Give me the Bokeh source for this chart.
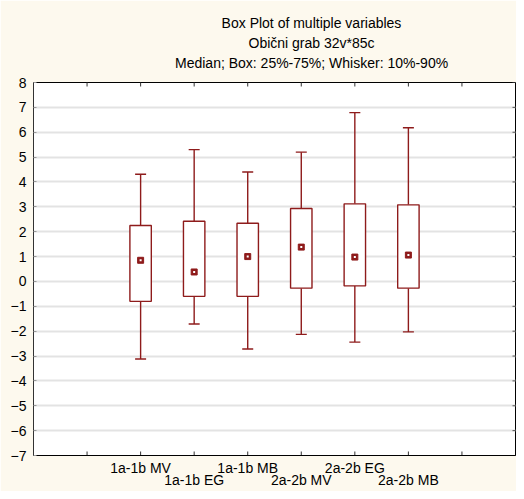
import numpy as np
from bokeh.plotting import figure
from bokeh.models import (Range1d, FixedTicker, Title, ColumnDataSource, LinearAxis,
                          CustomLabelingPolicy)
from bokeh.embed import file_html
from bokeh.resources import INLINE

# ---- data ----
categories = ["1a-1b MV", "1a-1b EG", "1a-1b MB", "2a-2b MV", "2a-2b EG", "2a-2b MB"]
median = [0.85, 0.38, 1.00, 1.38, 0.98, 1.06]
q25 = [-0.80, -0.60, -0.60, -0.27, -0.18, -0.27]
q75 = [2.25, 2.42, 2.34, 2.93, 3.12, 3.08]
p10 = [-3.12, -1.71, -2.72, -2.13, -2.44, -2.03]
p90 = [4.31, 5.30, 4.40, 5.20, 6.79, 6.18]
y_ticks = list(range(-7, 9))
title_lines = ["Box Plot of multiple variables",
               "Obični grab 32v*85c",
               "Median; Box: 25%-75%; Whisker: 10%-90%"]

RED = "#8E1B1B"
FONT = "Liberation Sans"
FS = "14px"

xpos = np.arange(1, len(categories) + 1)
x_ticks = list(range(0, len(categories) + 2))
x_lo, x_hi = -1, len(categories) + 2
src = ColumnDataSource(dict(x=xpos, med=median, q25=q25, q75=q75, p10=p10, p90=p90))

p = figure(width=516, height=491,
           x_range=Range1d(x_lo, x_hi), y_range=Range1d(min(y_ticks), max(y_ticks)),
           output_backend="svg", toolbar_location=None,
           min_border_left=33, min_border_right=1, min_border_top=82, min_border_bottom=30,
           background_fill_color="white", border_fill_color="#FDF9EE",
           outline_line_color="black", outline_line_width=1)

# bottom axis (labels only at categories, staggered)
xa = p.xaxis[0]
xa.ticker = FixedTicker(ticks=[int(v) for v in xpos])
overrides = {}
for i, (xi, c) in enumerate(zip(xpos, categories)):
    overrides[int(xi)] = c if i % 2 == 0 else "\n" + c
xa.major_label_overrides = overrides
xa.major_tick_in = 0
xa.major_tick_out = 0
xa.minor_tick_line_color = None
xa.axis_line_color = "black"
xa.major_label_standoff = 4
xa.major_label_text_font = FONT
xa.major_label_text_font_size = FS
xa.major_label_text_color = "black"
xa.major_label_text_line_height = 0.81

# left axis
ya = p.yaxis[0]
ya.ticker = FixedTicker(ticks=y_ticks)
ya.major_tick_in = 3
ya.major_tick_out = 0
ya.minor_tick_line_color = None
ya.axis_line_color = "#333333"
ya.major_tick_line_color = "#999999"
ya.major_label_standoff = 7
ya.major_label_text_font = FONT
ya.major_label_text_font_size = FS
ya.major_label_text_color = "black"

# invisible spacer axis between frame and title block (no labels drawn)
hide_all = CustomLabelingPolicy(code="for (const i of indices) { indices.unset(i) }\nreturn indices")
spacer = LinearAxis(ticker=FixedTicker(ticks=x_ticks), major_tick_out=0, major_tick_in=0,
                    major_tick_line_color=None, minor_tick_line_color=None,
                    axis_line_color=None, major_label_standoff=0,
                    major_label_policy=hide_all)
p.add_layout(spacer, "above")

p.xgrid.visible = False
p.ygrid.ticker = FixedTicker(ticks=y_ticks)
p.ygrid.grid_line_color = "#e3e3e3"
p.ygrid.grid_line_width = 2

# inward tick marks on bottom, top and right frame edges (half of each dash is clipped)
xt = np.array(x_ticks, dtype=float)
yt = np.array(y_ticks, dtype=float)
p.scatter(x=xt, y=np.full(len(xt), min(y_ticks)), marker="dash", angle=np.pi / 2, size=8,
          line_color="#333333", line_width=1)
p.scatter(x=xt, y=np.full(len(xt), max(y_ticks)), marker="dash", angle=np.pi / 2, size=8,
          line_color="#333333", line_width=1)
p.scatter(x=np.full(len(yt), x_hi), y=yt, marker="dash", size=6,
          line_color="#555555", line_width=1)

# whiskers
p.segment(x0="x", y0="q75", x1="x", y1="p90", source=src, line_color=RED, line_width=1.4)
p.segment(x0="x", y0="q25", x1="x", y1="p10", source=src, line_color=RED, line_width=1.4)
p.scatter(x="x", y="p90", source=src, marker="dash", size=11, line_color=RED, line_width=1.4)
p.scatter(x="x", y="p10", source=src, marker="dash", size=11, line_color=RED, line_width=1.4)
# boxes
p.vbar(x="x", width=0.4, top="q75", bottom="q25", source=src,
       fill_color="white", line_color=RED, line_width=1.4)
# medians
p.scatter(x="x", y="med", source=src, marker="square", size=6, fill_color=RED, line_color=RED)
p.scatter(x="x", y="med", source=src, marker="square", size=2, fill_color="white", line_color=None)

# title lines, stacked above the frame (later additions go further up)
TFS = 14
widths_em = [12.84, 9.0, 19.5]
for t, w in reversed(list(zip(title_lines, widths_em))):
    off = 278 - w * TFS / 2
    p.add_layout(Title(text=t, align="left", offset=off, text_font=FONT,
                       text_font_size=f"{TFS}px", text_font_style="normal",
                       text_color="black", standoff=1.5), "above")

open("out.html", "w").write(file_html(p, INLINE))
